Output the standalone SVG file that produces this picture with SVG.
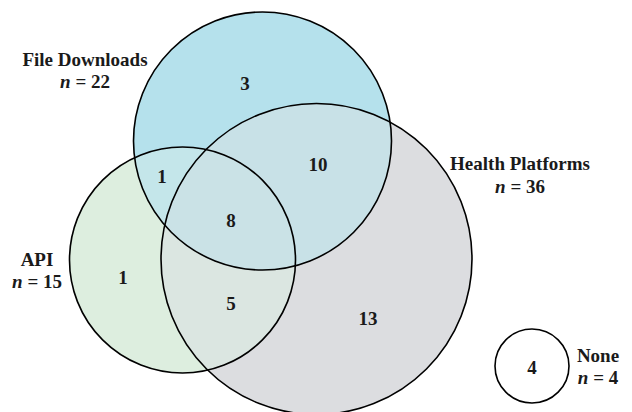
<svg xmlns="http://www.w3.org/2000/svg" width="632" height="412" viewBox="0 0 632 412">
<style>
.t{font-family:"Liberation Serif","Times New Roman",serif;font-weight:bold;font-size:19px;fill:#1a1a1a;text-anchor:middle}
.i{font-style:italic}
.o{fill:none;stroke:#000;stroke-width:1.6}
</style>
<defs>
<clipPath id="cFD"><circle cx="262.5" cy="141" r="129"/></clipPath>
<clipPath id="cAPI"><circle cx="182.5" cy="260" r="113"/></clipPath>
<clipPath id="cHP"><circle cx="316.5" cy="259" r="155.5"/></clipPath>
</defs>
<rect width="632" height="412" fill="#fff"/>
<g id="fills">
<circle cx="316.5" cy="259" r="155.5" fill="#dcdde0"/>
<circle cx="182.5" cy="260" r="113" fill="#ddeedf"/>
<circle cx="262.5" cy="141" r="129" fill="#b5e1ec"/>
<g clip-path="url(#cFD)"><circle cx="182.5" cy="260" r="113" fill="#c4e6ea"/></g>
<g clip-path="url(#cFD)"><circle cx="316.5" cy="259" r="155.5" fill="#c8e1e7"/></g>
<g clip-path="url(#cAPI)"><circle cx="316.5" cy="259" r="155.5" fill="#dbe6e1"/></g>
<g clip-path="url(#cAPI)"><g clip-path="url(#cFD)"><circle cx="316.5" cy="259" r="155.5" fill="#cae2e6"/></g></g>
</g>
<g id="health-platforms">
<circle class="o" cx="316.5" cy="259" r="155.5"/>
<text class="t" x="520" y="170">Health Platforms</text>
<text class="t" x="520" y="193"><tspan class="i">n</tspan> = 36</text>
</g>
<g id="api">
<circle class="o" cx="182.5" cy="260" r="113"/>
<text class="t" x="37" y="266">API</text>
<text class="t" x="37" y="288"><tspan class="i">n</tspan> = 15</text>
</g>
<g id="file-downloads">
<circle class="o" cx="262.5" cy="141" r="129"/>
<text class="t" x="85" y="66">File Downloads</text>
<text class="t" x="85" y="88"><tspan class="i">n</tspan> = 22</text>
</g>
<g id="none">
<circle class="o" cx="532" cy="366" r="37"/>
<text class="t" x="532" y="374">4</text>
<text class="t" x="598" y="362">None</text>
<text class="t" x="598" y="384"><tspan class="i">n</tspan> = 4</text>
</g>
<g id="counts">
<text class="t" x="245" y="90">3</text>
<text class="t" x="162" y="183">1</text>
<text class="t" x="318" y="171">10</text>
<text class="t" x="231" y="227">8</text>
<text class="t" x="123" y="284">1</text>
<text class="t" x="231" y="310">5</text>
<text class="t" x="368" y="325">13</text>
</g>
</svg>
